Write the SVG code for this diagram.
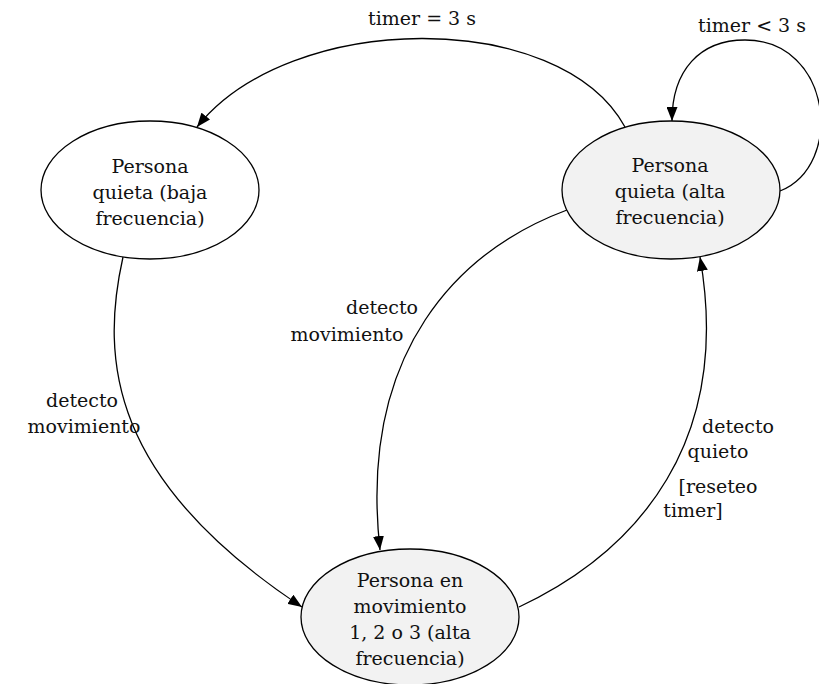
<svg xmlns="http://www.w3.org/2000/svg" width="819" height="684" viewBox="0 0 819 684">
<defs>
<style>
.node{stroke:#000;stroke-width:1.3}
.plain{fill:#fff}
.grey{fill:#f2f2f2}
text{font-family:"DejaVu Serif","Liberation Serif",serif;font-size:19px;fill:#111}
.c{text-anchor:middle}
.edge{fill:none;stroke:#000;stroke-width:1.3;marker-end:url(#arr)}
</style>
<marker id="arr" viewBox="0 0 14 11" refX="14" refY="5.5" markerWidth="14" markerHeight="11" orient="auto" markerUnits="userSpaceOnUse">
<path d="M0,0 L14,5.5 L0,11 Z" fill="#000"/>
</marker>
</defs>
<rect width="819" height="684" fill="#fff"/>
<g id="connectors">
<path class="edge" d="M625,127 C560,8 290,10 197,127"/>
<path class="edge" d="M780,191 C845,165 832,40 745,40 C700,40 672,70 672,121"/>
<path class="edge" d="M567,210 C460,250 358,350 380,550"/>
<path class="edge" d="M123,257 C100,360 110,480 302,607"/>
<path class="edge" d="M519,607 C640,550 732,440 700,257"/>
</g>
<g id="labels">
<text class="c" x="422" y="25">timer = 3 s</text>
<text class="c" x="752" y="32">timer &lt; 3 s</text>
<text class="c" x="382" y="314">detecto</text>
<text class="c" x="347" y="341">movimiento</text>
<text class="c" x="82" y="407">detecto</text>
<text class="c" x="84" y="433">movimiento</text>
<text class="c" x="738" y="433">detecto</text>
<text class="c" x="718" y="458">quieto</text>
<text class="c" x="718" y="493">[reseteo</text>
<text class="c" x="693" y="517">timer]</text>
</g>
<g id="node-baja">
<ellipse class="node plain" cx="150" cy="190" rx="109" ry="69"/>
<text class="c" x="150" y="173">Persona</text>
<text class="c" x="150" y="199">quieta (baja</text>
<text class="c" x="150" y="225">frecuencia)</text>
</g>
<g id="node-alta">
<ellipse class="node grey" cx="671" cy="190" rx="109" ry="69"/>
<text class="c" x="670" y="172">Persona</text>
<text class="c" x="670" y="198">quieta (alta</text>
<text class="c" x="670" y="224">frecuencia)</text>
</g>
<g id="node-mov">
<ellipse class="node grey" cx="410" cy="617" rx="109" ry="68"/>
<text class="c" x="410" y="587">Persona en</text>
<text class="c" x="410" y="613">movimiento</text>
<text class="c" x="410" y="639">1, 2 o 3 (alta</text>
<text class="c" x="410" y="665">frecuencia)</text>
</g>
</svg>
